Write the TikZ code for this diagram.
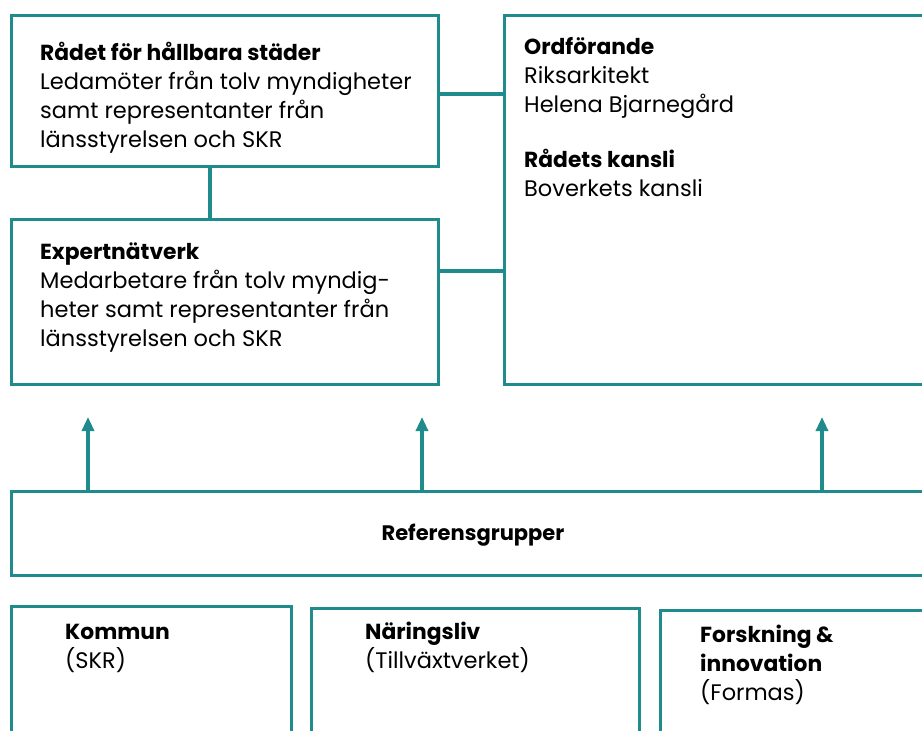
\documentclass[tikz,border=0pt]{standalone}
\usepackage{fontspec}
\setmainfont{Poppins}
\usetikzlibrary{arrows.meta}
\definecolor{teal1}{HTML}{208B8C}
\newcommand{\hd}[1]{{\fontsize{21.8}{28.8}\selectfont\bfseries #1}}
\tikzset{
  box/.style={draw=teal1, line width=3.2pt, anchor=north west, inner sep=0pt, fill=white},
  conn/.style={draw=teal1, line width=3.2pt},
  arr/.style={draw=teal1, line width=3.2pt, -{Triangle[length=14pt,width=12pt]}},
  txt/.style={anchor=base west, inner sep=0pt, font=\fontsize{22.5}{28.8}\selectfont, align=left},
}
\begin{document}
\begin{tikzpicture}[x=1pt,y=-1pt]
\useasboundingbox (0,0) rectangle (922,731);
\clip (0,0) rectangle (922,731);
% boxes
\node[box, minimum width=427pt, minimum height=151pt] (b1) at (10,14) {};
\node[box, minimum width=427pt, minimum height=165pt] (b2) at (10,218) {};
\node[box, minimum width=440pt, minimum height=369pt] (b3) at (503,14) {};
\node[box, minimum width=940pt, minimum height=84pt] (ref) at (10,490) {};
\node[box, minimum width=280pt, minimum height=160pt] (k1) at (10,605) {};
\node[box, minimum width=328pt, minimum height=160pt] (k2) at (310,607) {};
\node[box, minimum width=300pt, minimum height=160pt] (k3) at (659,609) {};
% connectors
\draw[conn] (b1.south -| 210,0) -- (b2.north -| 210,0);
\draw[conn] (b1.east |- 0,94) -- (b3.west |- 0,94);
\draw[conn] (b2.east |- 0,271) -- (b3.west |- 0,271);
\coordinate (t1) at (88,417);
\coordinate (t2) at (422,417);
\coordinate (t3) at (822,417);
\draw[arr] (ref.north -| t1) -- (t1);
\draw[arr] (ref.north -| t2) -- (t2);
\draw[arr] (ref.north -| t3) -- (t3);
% texts (anchored at the baseline of the last line)
\node[txt] (tx1) at (40,147) {\hd{Rådet för hållbara städer}\\Ledamöter från tolv myndigheter\\samt representanter från\\länsstyrelsen och SKR};
\node[txt] (tx2) at (40,346) {\hd{Expertnätverk}\\Medarbetare från tolv myndig-\\heter samt representanter från\\länsstyrelsen och SKR};
\node[txt] (tx3) at (524,112) {\hd{Ordförande}\\Riksarkitekt\\Helena Bjarnegård};
\node[txt] (tx4) at (524,196) {\hd{Rådets kansli}\\Boverkets kansli};
\node[anchor=base, inner sep=0pt, font=\fontsize{21}{29}\selectfont\bfseries] (tx5) at (473,540) {Referensgrupper};
\node[txt] (tx6) at (65,668) {\hd{Kommun}\\(SKR)};
\node[txt] (tx7) at (365,668) {\hd{Näringsliv}\\(Tillväxtverket)};
\node[txt] (tx8) at (700,700) {\hd{Forskning \&}\\\hd{innovation}\\(Formas)};
\end{tikzpicture}
\end{document}
